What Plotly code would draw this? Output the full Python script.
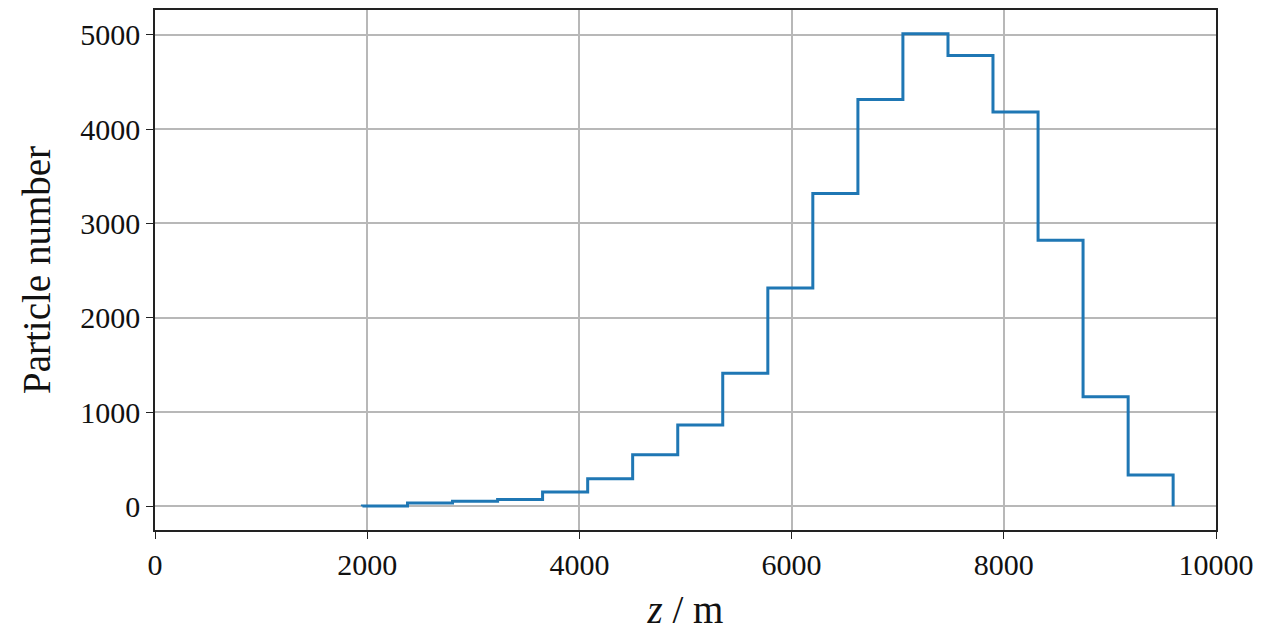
import plotly.graph_objects as go

# Histogram of particle heights: bin edges (m) and particle counts per bin
bin_edges = [1955, 2380, 2804, 3229, 3653, 4078, 4502, 4927, 5351, 5776,
             6200, 6625, 7049, 7474, 7898, 8323, 8747, 9172, 9596]
counts = [5, 35, 53, 74, 151, 293, 548, 862, 1410, 2314,
          3316, 4315, 5012, 4780, 4180, 2822, 1163, 333]

x_ticks = [0, 2000, 4000, 6000, 8000, 10000]
y_ticks = [0, 1000, 2000, 3000, 4000, 5000]

# Step outline (like a histtype="step" histogram), starting and ending at zero
step_x = [bin_edges[0]] + bin_edges[:-1] + [bin_edges[-1], bin_edges[-1]]
step_y = [0] + counts + [counts[-1], 0]

font_family = "Liberation Serif, DejaVu Serif, serif"

fig = go.Figure()
fig.add_trace(go.Scatter(
    x=step_x, y=step_y, mode="lines",
    line=dict(color="#1f77b4", width=3, shape="hv"),
    showlegend=False,
))

ymax = max(counts)
pad = 0.05 * ymax

axis_common = dict(
    showline=True, linecolor="#222222", linewidth=1.6, mirror=True,
    ticks="outside", ticklen=7, tickwidth=1.4, tickcolor="#222222",
    showgrid=True, gridcolor="#b8b8b8", gridwidth=1.5,
    zeroline=False, automargin=False,
    tickfont=dict(family=font_family, size=30, color="#111111"),
)

fig.update_layout(
    width=1261, height=637,
    margin=dict(l=155, r=45, t=10, b=107),
    paper_bgcolor="white", plot_bgcolor="white",
    xaxis=dict(
        range=[0, 10000], tickvals=x_ticks,
        ticktext=[str(v) for v in x_ticks],
        title=dict(text="<i>z</i> / m", standoff=16,
                   font=dict(family=font_family, size=39, color="#111111")),
        **axis_common,
    ),
    yaxis=dict(
        range=[-pad, ymax + pad], tickvals=y_ticks,
        ticktext=[str(v) for v in y_ticks],
        title=dict(text="Particle number", standoff=18,
                   font=dict(family=font_family, size=39, color="#111111")),
        **axis_common,
    ),
)

fig.write_html("out.html")
